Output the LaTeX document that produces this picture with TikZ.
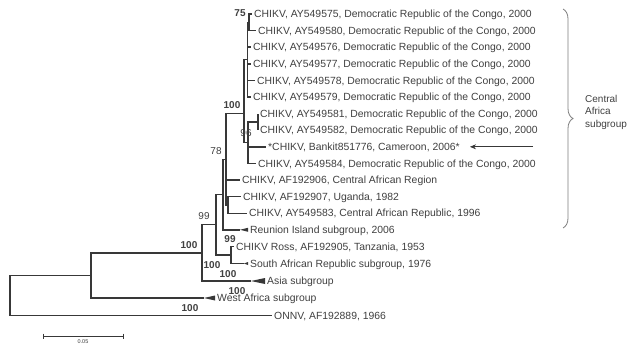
\documentclass[tikz,border=0pt]{standalone}
\usepackage{fontspec}
\setmainfont{Liberation Sans}
\usetikzlibrary{decorations.pathreplacing,arrows.meta}
\definecolor{ln}{HTML}{383838}
\definecolor{txt}{HTML}{404040}
\begin{document}
\begin{tikzpicture}[x=1pt,y=-1pt,
 leaf/.style={anchor=west, inner xsep=2pt, inner ysep=0pt, text height=7.5pt, text depth=0pt, font=\fontsize{10.4}{12}\selectfont, text=txt},
 br/.style={line width=1.4pt, draw=ln},
 wedge/.style={fill=ln},
 bsb/.style={inner sep=0pt, font=\bfseries\fontsize{10}{12}\selectfont, text=txt},
 bsn/.style={inner sep=0pt, font=\fontsize{10}{12}\selectfont, text=txt},
 thin/.style={line width=0.7pt, draw=ln},
]
\useasboundingbox (0,0) rectangle (631,345);
\fill[white] (0,0) rectangle (631,345);

% leaves
\node[leaf] (l1) at (252,14) {CHIKV, AY549575, Democratic Republic of the Congo, 2000};
\node[leaf] (l2) at (256,30.6) {CHIKV, AY549580, Democratic Republic of the Congo, 2000};
\node[leaf] (l3) at (251,47.2) {CHIKV, AY549576, Democratic Republic of the Congo, 2000};
\node[leaf] (l4) at (251,63.8) {CHIKV, AY549577, Democratic Republic of the Congo, 2000};
\node[leaf] (l5) at (255,80.4) {CHIKV, AY549578, Democratic Republic of the Congo, 2000};
\node[leaf] (l6) at (251,97) {CHIKV, AY549579, Democratic Republic of the Congo, 2000};
\node[leaf] (l7) at (258,113.6) {CHIKV, AY549581, Democratic Republic of the Congo, 2000};
\node[leaf] (l8) at (258,130.2) {CHIKV, AY549582, Democratic Republic of the Congo, 2000};
\node[leaf] (l9) at (266,146.8) {*CHIKV, Bankit851776, Cameroon, 2006*};
\node[leaf] (l10) at (256,163.4) {CHIKV, AY549584, Democratic Republic of the Congo, 2000};
\node[leaf] (l11) at (240,180) {CHIKV, AF192906, Central African Region};
\node[leaf] (l12) at (241,196.6) {CHIKV, AF192907, Uganda, 1982};
\node[leaf] (l13) at (247,213.2) {CHIKV, AY549583, Central African Republic, 1996};
\node[leaf] (l14) at (248,229.8) {Reunion Island subgroup, 2006};
\node[leaf] (l15) at (234,246.5) {CHIKV Ross, AF192905, Tanzania, 1953};
\node[leaf] (l16) at (248,263.5) {South African Republic subgroup, 1976};
\node[leaf] (l17) at (265,281) {Asia subgroup};
\node[leaf] (l18) at (215,298) {West Africa subgroup};
\node[leaf] (l19) at (272,315.5) {ONNV, AF192889, 1966};

% internal nodes
\coordinate (N12) at (249,22.3);
\coordinate (Q) at (247.5,59.65);
\coordinate (N78) at (258,121.9);
\coordinate (P) at (248,142.65);
\coordinate (H) at (244,113.6);
\coordinate (G) at (226,159.25);
\coordinate (K) at (228,204.9);
\coordinate (F) at (223,194.5);
\coordinate (D) at (231,255);
\coordinate (E) at (216,224.75);
\coordinate (B) at (202,252.9);
\coordinate (A) at (91,275.45);
\coordinate (R) at (10,295.5);
% wedge starts
\coordinate (w14) at (240,229.8);
\coordinate (w16) at (244,263.5);
\coordinate (w17) at (251,281);
\coordinate (w18) at (204,298);

% branches
\draw[br] (N12) |- (l1.west);
\draw[br] (N12) |- (l2.west);
\draw[br] (Q) |- (N12);
\draw[br] (Q) |- (l3.west);
\draw[br] (Q) |- (l4.west);
\draw[br] (Q) |- (l5.west);
\draw[br] (Q) |- (l6.west);
\draw[br] (N78) |- (l7.west);
\draw[br] (N78) |- (l8.west);
\draw[br] (P) |- (N78);
\draw[br] (P) |- (l9.west);
\draw[br] (P) |- (l10.west);
\draw[br] (H) |- (Q);
\draw[br] (H) |- (P);
\draw[br] (G) |- (H);
\draw[br] (G) |- (l11.west);
\draw[br] (G) |- (K);
\draw[br] (K) |- (l12.west);
\draw[br] (K) |- (l13.west);
\draw[br] (F) |- (G);
\draw[br] (F) |- (w14);
\draw[br] (D) |- (l15.west);
\draw[br] (D) |- (w16);
\draw[br] (E) |- (F);
\draw[br] (E) |- (D);
\draw[br] (B) |- (E);
\draw[br] (B) |- (w17);
\draw[br] (A) |- (B);
\draw[br] (A) |- (w18);
\draw[br] (R) |- (A);
\draw[br] (R) |- (l19.west);

% collapsed wedges
\fill[wedge] (w14) -- ([yshift=2pt]l14.west) -- ([yshift=-2pt]l14.west) -- cycle;
\fill[wedge] (w16) -- ([yshift=1.5pt]l16.west) -- ([yshift=-1.5pt]l16.west) -- cycle;
\fill[wedge] (w17) -- ([yshift=3pt]l17.west) -- ([yshift=-3pt]l17.west) -- cycle;
\fill[wedge] (w18) -- ([yshift=2.5pt]l18.west) -- ([yshift=-2.5pt]l18.west) -- cycle;

% bootstrap values
\node[bsb] (b75) at (240,13) {75};
\node[bsb] (b100h) at (232,105.5) {100};
\node[bsn] (b96) at (246,133) {96};
\node[bsn] (b78) at (216,151) {78};
\node[bsn] (b99e) at (204,216.5) {99};
\node[bsb] (b100b) at (189,245) {100};
\node[bsb] (b99d) at (230,239) {99};
\node[bsb] (b100e) at (212,265) {100};
\node[bsb] (b100as) at (228,274) {100};
\node[bsb] (b100wa) at (237,291) {100};
\node[bsb] (b100r) at (190,308) {100};

% brace and group label
\coordinate (bt) at (563,9);
\coordinate (bb) at (563,228);
\draw[decorate, decoration={brace, amplitude=10pt}, line width=0.8pt, draw=ln!65] (bt) -- (bb);
\node[anchor=west, inner sep=0pt, align=left, text=txt, font=\fontsize{10}{12.5}\selectfont] (grp) at (585,112) {Central\\Africa\\subgroup};

% arrow to the Cameroon sequence
\coordinate (as) at (533,146.8);
\coordinate (ae) at (470,146.8);
\draw[thin, -{Stealth[length=6pt,width=5pt]}] (as) -- (ae);

% scale bar
\coordinate (s1) at (43,336);
\coordinate (s2) at (123,336);
\draw[line width=0.6pt, draw=ln] (s1) -- (s2);
\draw[line width=0.6pt, draw=ln] ([yshift=2.5pt]s1) -- ([yshift=-2.5pt]s1);
\draw[line width=0.6pt, draw=ln] ([yshift=2.5pt]s2) -- ([yshift=-2.5pt]s2);
\node[inner sep=0pt, text=txt, font=\fontsize{5.5}{6}\selectfont] (sl) at (83,342) {0.05};
\end{tikzpicture}
\end{document}
